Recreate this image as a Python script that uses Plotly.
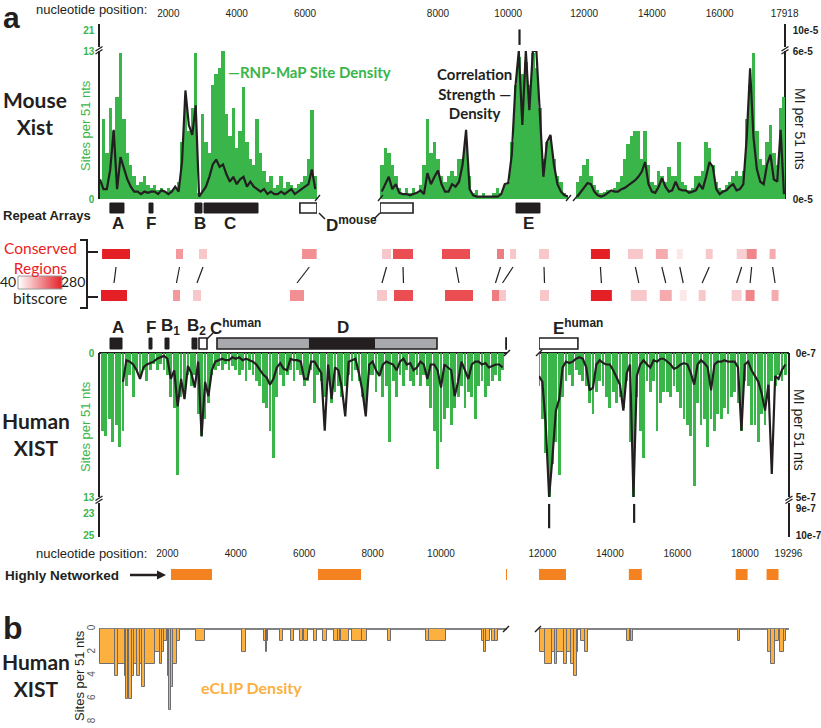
import plotly.graph_objects as go

W, H = 821, 728
ARIAL = "Liberation Sans, Arial, sans-serif"
CAL = "Lato, Carlito, Calibri, sans-serif"
GREEN = "#39b54a"
BLACK = "#231f20"
ORANGE = "#f58220"
ECLIP = "#fbb040"
RED = "#ed1c24"

# ------------------------------------------------------------------ data
# Mouse Xist: RNP-MaP sites per 51 nt and MI (x1e-5) per 51 nt, 100-nt bins
mouse_bins = list(range(0, 18000, 100))
mouse_sites = [
    1.5, 7, 4, 8, 6, 9, 12.8, 7, 4, 3,
    2, 1.2, 1.5, 2, 1.2, 1, 1.2, 0.8, 1, 0.6,
    1, 0.8, 1, 1.5, 5, 8.5, 6, 8, 12.8, 0.5,
    7.5, 5, 4, 10, 11, 11.5, 13, 7.5, 5.5, 8,
    4.5, 6, 9.8, 5, 3.5, 3, 7, 4, 2.5, 1.5,
    2, 1, 1.2, 2, 1, 1.5, 1.2, 1, 1.3, 1.5,
    2, 3.5, 7.8, 2,
    3, 4.5, 4, 3, 2, 1, 0.5, 1, 0.5, 1,
    0.5, 1.2, 3, 7, 4, 5, 3.5, 2, 1.5, 2,
    2.5, 2, 3.5, 3.5, 5, 2, 0.5, 0.8, 0.3, 0.5,
    0.3, 0.2, 0.5, 1, 0.5, 1.2, 1.5, 5, 10, 12.5,
    11, 12, 10, 12.8, 11.5, 8, 3.5, 5, 5.5, 3.5,
    2, 1.5, 0.5, 0.2,
    1.5, 2, 3, 3.5, 2, 1.2, 0.8, 0.5, 0.6, 0.8,
    0.6, 1, 1.5, 2, 3.5, 4.8, 5.5, 6, 6, 3.5,
    6, 3, 1.5, 1.2, 2.5, 2, 1.5, 2.8, 2, 2,
    5, 1.5, 1.2, 0.8, 1, 2, 2, 2.5, 5, 4.5,
    3, 1.5, 1, 0.8, 1.2, 1.5, 2, 2.5, 2, 2.5,
    7, 10, 12.8, 6, 3.5, 3, 5, 6.5, 4, 3,
    8, 9]
mouse_mi = [
    0.8, 0.4, 0.4, 1.2, 2.8, 0.4, 1.7, 1.2, 0.8, 0.5,
    0.3, 0.3, 0.2, 0.3, 0.25, 0.3, 0.3, 0.2, 0.35, 0.3,
    0.2, 0.3, 0.5, 0.3, 1.5, 4.4, 3.0, 2.6, 3.8, 0.1,
    0.3, 0.5, 0.9, 1.4, 1.6, 1.3, 1.4, 1.0, 0.7, 0.9,
    0.6, 0.8, 0.9, 0.5, 0.7, 0.5, 0.4, 0.3, 0.4, 0.2,
    0.3, 0.2, 0.2, 0.3, 0.2, 0.3, 0.4, 0.2, 0.3, 0.4,
    0.5, 0.6, 1.2, 0.4,
    0.3, 0.6, 0.9, 0.4, 0.6, 0.25, 0.2, 0.2, 0.15, 0.2,
    0.25, 0.35, 0.2, 1.05, 0.6, 0.9, 1.15, 0.6, 0.3, 0.3,
    0.6, 0.5, 0.7, 1.4, 2.8, 0.4, 0.15, 0.1, 0.1, 0.12,
    0.1, 0.1, 0.1, 0.1, 0.2, 0.6, 0.65, 1.8, 4.5, 6,
    3.0, 6, 3.6, 6, 6, 3.2, 0.9, 2.3, 2.6, 1.4,
    0.6, 0.3, 0.15, 0.1,
    0.1, 0.3, 0.45, 0.65, 0.6, 0.3, 0.15, 0.1, 0.15, 0.25,
    0.35, 0.3, 0.3, 0.4, 0.45, 0.55, 0.65, 0.75, 0.9, 1.1,
    1.5, 0.6, 0.3, 0.25, 0.5, 0.85, 0.5, 0.3, 0.35, 0.7,
    0.4, 0.35, 0.35, 0.25, 0.3, 0.35, 0.6, 0.4, 0.9, 1.5,
    1.3, 0.4, 0.2, 0.3, 0.35, 0.5, 0.6, 0.35, 0.4, 0.6,
    2.5, 5.3, 2.5, 1.2, 0.7, 0.6, 1.4, 1.8, 0.8, 0.7,
    2.8, 0.2]
mouse_mi_overflow_nt = [10320]
mouse_mi_overflow_top = [10.2]

# Human XIST
human_bins = list(range(0, 19300, 100))
human_sites = [
    2, 7, 7.5, 6, 8, 6.5, 8.5, 7, 3, 2,
    4, 1.5, 2, 1.5, 2.5, 1.5, 1, 1.5, 1, 1.5,
    2, 4, 5, 11, 4, 3.5, 2, 3, 2, 5.5,
    7.5, 6, 4.5, 2, 1.5, 1.2, 1.5, 1, 1.5, 1.2,
    1.5, 2, 1.5, 2.5, 1.5, 2, 2.5, 3, 4.5, 5,
    7, 9.5, 4, 2, 3, 2, 1.5, 2.5, 1.5, 2,
    3, 2.5, 1.5, 4.5, 2, 2.5, 4, 2, 4.5, 3.5,
    3, 4, 3, 2, 2.5, 1.5, 2.5, 4, 5, 2,
    2, 3.5, 2, 4, 3, 8, 2.5, 4, 2, 3,
    1.5, 2.5, 3, 2, 3, 2, 3, 5, 7, 10.5,
    8, 6, 5, 6.5, 5, 4, 3, 5, 3.5, 4,
    6, 3, 2.5, 4, 3, 2.5, 2, 2.5, 1.5,
    3, 6, 9, 13, 10, 8, 11, 4, 2.5, 2,
    3, 1.5, 2, 2.5, 3, 4.5, 5.5, 3.5, 2.5, 3,
    4, 5, 3.5, 4.5, 4, 5, 2.5, 8, 13, 4,
    7, 9.5, 2.5, 3.5, 2.5, 7, 4.5, 3.5, 3.5, 4,
    3, 3.5, 5, 6, 6.5, 7.5, 12, 4.5, 6.5, 6,
    8.5, 6, 7, 5.5, 6, 5, 5.5, 4, 3.5, 4.5,
    7, 2.5, 3, 6.5, 6.5, 8, 5.5, 6.5, 4, 2.5,
    3, 2, 2.5, 2]
human_mi = [
    None, None, None, None, None, None, None, 1.0, 0.25, 0.3,
    0.4, 0.6, 0.9, 0.5, 0.4, 0.35, 0.3, 0.2, 0.15, 0.1,
    0.2, 0.9, 0.6, 1.85, 0.9, 1.6, 0.45, 0.7, 1.2, 0.3,
    2.9, 1.0, 1.5, 0.6, 0.3, 0.25, 0.2, 0.25, 0.25, 0.15,
    0.2, 0.15, 0.25, 0.2, 0.25, 0.3, 0.4, 0.6, 0.75, 0.85,
    1.1, 0.9, 0.5, 0.35, 0.55, 0.6, 0.2, 0.25, 0.25, 0.3,
    0.9, 0.9, 0.3, 0.3, 0.5, 0.7, 2.7, 0.4, 1.6, 0.5,
    0.6, 1.2, 2.2, 0.3, 0.25, 0.2, 0.7, 1.3, 2.2, 0.4,
    0.3, 0.6, 0.8, 0.4, 0.3, 0.35, 0.4, 0.6, 0.3, 0.2,
    0.4, 0.35, 0.6, 0.5, 0.3, 0.4, 0.9, 0.4, 0.4, 0.6,
    1.2, 0.4, 0.5, 0.6, 1.5, 1.0, 0.3, 0.6, 0.9, 0.4,
    0.3, 0.3, 0.4, 0.35, 0.5, 0.45, 0.4, 0.4, 0.5,
    0.8, 1.0, 2.5, 5, 3.6, 2.0, 1.6, 0.5, 0.3, 0.35,
    0.3, 0.2, 0.15, 0.2, 0.5, 1.3, 1.2, 0.4, 0.25, 0.35,
    0.4, 0.4, 0.6, 0.85, 1.1, 2.0, 0.7, 0.4, 5, 0.8,
    0.4, 0.25, 0.4, 0.5, 0.25, 0.3, 0.2, 0.2, 0.3, 0.4,
    0.55, 0.5, 0.4, 0.35, 0.4, 0.7, 1.1, 0.4, 0.25, 0.35,
    0.5, 1.3, 0.4, 0.3, 0.3, 0.25, 0.3, 0.3, 0.3, 0.5,
    2.7, 0.4, 0.3, 0.6, 0.8, 1.0, 1.4, 2.0, 1.1, 4.2,
    0.8, 0.9, 0.6, 0.4]
human_mi_overflow_nt = [12200, 14720]
human_mi_overflow_bottom = [9.75, 9.55]

mouse_ticks = [2000, 4000, 6000, 8000, 10000, 12000, 14000, 16000, 17918]
human_ticks = [2000, 4000, 6000, 8000, 10000, 12000, 14000, 16000, 18000, 19296]

# repeat arrays (nt)
mouse_repeat_names = ["A", "F", "B", "C", "D", "E"]
mouse_repeat_start = [290, 1434, 2780, 3044, 5850, 10220]
mouse_repeat_end = [702, 1551, 2985, 4624, 7290, 10903]
human_repeat_names = ["A", "F", "B1", "B2", "C", "D", "E"]
human_repeat_start = [322, 1462, 1930, 2719, 2924, 3450, 11900]
human_repeat_end = [673, 1550, 2047, 2865, 3158, 9883, 13054]
human_D_core = [6140, 8070]

# conserved regions (paired mouse / human, bitscore)
cons_mouse_start = [60, 2224, 2897, 5912, 6407, 6720, 8114, 9680, 10050, 10875, 12201, 13292, 14117, 14735, 15590, 16503, 16798, 17476]
cons_mouse_end = [878, 2429, 3131, 6340, 6663, 7289, 8911, 9879, 10222, 11160, 12761, 13734, 14470, 14912, 15796, 16798, 17093, 17653]
cons_human_start = [58, 2164, 2749, 5585, 8129, 8626, 10117, 11491, 11696, 11930, 13438, 14622, 15480, 16071, 16633, 17609, 18024, 18793]
cons_human_end = [819, 2368, 2982, 5994, 8421, 9181, 10936, 11696, 11900, 12196, 14060, 15095, 15834, 16278, 16840, 17905, 18290, 19000]
cons_bitscore = [280, 150, 100, 160, 100, 230, 230, 180, 100, 100, 280, 100, 130, 65, 100, 90, 170, 130]
bitscore_range = [40, 280]

# highly networked regions (human nt)
hn_start = [2105, 6404, 11900, 14563, 17729, 18645]
hn_end = [3304, 7661, 12700, 14947, 18083, 19000]

# eCLIP density (human nt segments, sites per 51 nts)
eclip_start = [30, 470, 560, 760, 790, 860, 890, 960, 1020, 1100, 1200, 1250, 1345, 1640, 1785, 1830, 1900,
               2010, 2060, 2110, 2170, 2270, 2840, 4190, 4820, 4870, 4910, 5300, 5610, 5870, 5980, 6290,
               6560, 6880, 7000, 7070, 7400, 7700, 8450, 9560, 9650, 11200, 11260, 11330, 11490, 11580,
               11930, 12080, 12290, 12360, 12440, 12640, 12740, 12860, 12940, 13040, 13150, 13260,
               14500, 14630, 17790, 18690, 18790, 18900, 19050, 19150]
eclip_end = [470, 560, 760, 790, 860, 890, 960, 1020, 1100, 1200, 1250, 1345, 1640, 1785, 1830, 1900, 1980,
             2060, 2110, 2170, 2270, 2370, 3100, 4300, 4870, 4910, 4940, 5380, 5700, 5960, 6110, 6380,
             6670, 6990, 7050, 7310, 7700, 7840, 8540, 9650, 10150, 11260, 11330, 11430, 11570, 11670,
             12080, 12290, 12360, 12440, 12640, 12740, 12860, 12940, 13040, 13070, 13260, 13360,
             14600, 14680, 17870, 18790, 18900, 19000, 19150, 19230]
eclip_sites = [3, 4, 3, 4, 6, 4, 6, 4, 3, 4, 3, 5, 3, 2, 3, 2, 1,
               4, 7, 5, 3, 1, 1, 2, 1, 2, 1, 1, 1, 1, 1, 1,
               1, 1, 1, 1, 1, 1, 1, 1, 1, 1, 2, 1, 1, 1,
               2, 3, 2, 3, 2, 3, 2, 3, 4, 2, 1, 2,
               1, 1, 1, 2, 3, 1, 2, 1]

assert len(mouse_sites) == len(mouse_bins) == len(mouse_mi)
assert len(human_sites) == len(human_bins) == len(human_mi)
assert len(eclip_start) == len(eclip_end) == len(eclip_sites)

# ------------------------------------------------------------------ layout helpers
def fx(px):
    return px / W

def fy(py):
    return 1 - py / H

# (axis id, nt lo, nt hi, pixel left, pixel right)
MSEG = [("x", 0, 6350, 100, 317), ("x2", 6350, 11700, 380, 568), ("x3", 11730, 17930, 575, 785)]
HSEG = [("x4", 0, 11930, 99, 507), ("x5", 11900, 19310, 539, 789)]
MSPLIT = [(-1, 6350), (6350, 11750), (11750, 10 ** 9)]
HSPLIT = [(-1, 11850), (11850, 10 ** 9)]
MOUSE_BAR_W = 100
HUMAN_BAR_W = 82


def nt_px(nt, segs):
    for ax, lo, hi, d0, d1 in segs:
        if lo <= nt <= hi:
            return d0 + (nt - lo) / (hi - lo) * (d1 - d0)
    return None


def bitcolor(b):
    t = (b - bitscore_range[0]) / (bitscore_range[1] - bitscore_range[0])
    t = max(0, min(1, t))
    r = round(255 + (228 - 255) * t)
    g = round(255 + (31 - 255) * t)
    bl = round(255 + (38 - 255) * t)
    return f"rgb({r},{g},{bl})"


shapes = []
annotations = []


def add_box(segs, start, end, ytop, ybot, fill, line):
    for ax, lo, hi, d0, d1 in segs:
        a, b = max(start, lo), min(end, hi)
        if a < b:
            shapes.append(dict(type="rect", xref=ax, yref="paper", x0=a, x1=b,
                               y0=fy(ybot), y1=fy(ytop), fillcolor=fill, line=line, layer="above"))


def line_px(x0, y0, x1, y1, w=1.5, color=BLACK):
    shapes.append(dict(type="line", xref="paper", yref="paper", x0=fx(x0), y0=fy(y0),
                       x1=fx(x1), y1=fy(y1), line=dict(color=color, width=w)))


def ann(text, x, y, size, color=BLACK, family=ARIAL, xanchor="center", yanchor="middle", angle=0, align="center"):
    annotations.append(dict(text=text, x=fx(x), y=fy(y), xref="paper", yref="paper", showarrow=False,
                            font=dict(size=size, color=color, family=family), xanchor=xanchor,
                            yanchor=yanchor, textangle=angle, align=align, borderpad=0))


# ------------------------------------------------------------------ traces
fig = go.Figure()

# mouse green bars
for (ax, lo, hi, d0, d1), (a, b) in zip(MSEG, MSPLIT):
    idx = [i for i, n in enumerate(mouse_bins) if a <= n < b]
    fig.add_trace(go.Bar(x=[mouse_bins[i] for i in idx], y=[mouse_sites[i] for i in idx], width=MOUSE_BAR_W,
                         marker=dict(color=GREEN, line=dict(width=0)), xaxis=ax, yaxis="y", hoverinfo="skip"))
# mouse MI line
for (ax, lo, hi, d0, d1), (a, b) in zip(MSEG, MSPLIT):
    idx = [i for i, n in enumerate(mouse_bins) if a <= n < b]
    fig.add_trace(go.Scatter(x=[mouse_bins[i] for i in idx], y=[mouse_mi[i] for i in idx], mode="lines",
                             line=dict(color=BLACK, width=2.2), xaxis=ax, yaxis="y2", hoverinfo="skip"))
# overflow (above axis break)
fig.add_trace(go.Scatter(x=[None], y=[None], xaxis="x", yaxis="y3", mode="lines", hoverinfo="skip"))
for n, top in zip(mouse_mi_overflow_nt, mouse_mi_overflow_top):
    fig.add_trace(go.Scatter(x=[n, n], y=[6.5, top], mode="lines", line=dict(color=BLACK, width=2.2),
                             xaxis="x2", yaxis="y4", hoverinfo="skip"))

# human green bars
for (ax, lo, hi, d0, d1), (a, b) in zip(HSEG, HSPLIT):
    idx = [i for i, n in enumerate(human_bins) if a <= n < b]
    fig.add_trace(go.Bar(x=[human_bins[i] for i in idx], y=[human_sites[i] for i in idx], width=HUMAN_BAR_W,
                         marker=dict(color=GREEN, line=dict(width=0)), xaxis=ax, yaxis="y5", hoverinfo="skip"))
for (ax, lo, hi, d0, d1), (a, b) in zip(HSEG, HSPLIT):
    idx = [i for i, n in enumerate(human_bins) if a <= n < b]
    fig.add_trace(go.Scatter(x=[human_bins[i] for i in idx], y=[human_mi[i] for i in idx], mode="lines",
                             line=dict(color=BLACK, width=2.2), xaxis=ax, yaxis="y6", hoverinfo="skip"))
fig.add_trace(go.Scatter(x=[None], y=[None], xaxis="x4", yaxis="y7", mode="lines", hoverinfo="skip"))
for n, bot in zip(human_mi_overflow_nt, human_mi_overflow_bottom):
    fig.add_trace(go.Scatter(x=[n, n], y=[8.85, bot], mode="lines", line=dict(color=BLACK, width=2.2),
                             xaxis="x5", yaxis="y8", hoverinfo="skip"))

# eCLIP density (panel b)
for ax, lo, hi, d0, d1 in HSEG:
    idx = [i for i in range(len(eclip_start)) if lo <= eclip_start[i] < hi and eclip_end[i] <= hi + 1]
    fig.add_trace(go.Bar(x=[(eclip_start[i] + eclip_end[i]) / 2 for i in idx],
                         y=[eclip_sites[i] for i in idx],
                         width=[eclip_end[i] - eclip_start[i] for i in idx],
                         marker=dict(color=ECLIP, line=dict(color="#6d6e71", width=1)),
                         xaxis=ax, yaxis="y9", hoverinfo="skip"))

# bitscore colour bar
fig.add_trace(go.Heatmap(z=[bitscore_range], x=[0, 1], y=[0], zmin=bitscore_range[0], zmax=bitscore_range[1],
                         zsmooth="best", colorscale=[[0, bitcolor(bitscore_range[0])], [1, bitcolor(bitscore_range[1])]],
                         showscale=False, xaxis="x6", yaxis="y10", hoverinfo="skip"))

# ------------------------------------------------------------------ shapes
SOLID = dict(color=BLACK, width=1)
HOLLOW = dict(color=BLACK, width=1.6)

# mouse repeat arrays
for name, s, e in zip(mouse_repeat_names, mouse_repeat_start, mouse_repeat_end):
    if name == "D":
        add_box(MSEG, s, e, 203, 213, "white", HOLLOW)
    else:
        add_box(MSEG, s, e, 203, 213, BLACK, SOLID)
# human repeat arrays
for name, s, e in zip(human_repeat_names, human_repeat_start, human_repeat_end):
    if name in ("C", "E"):
        add_box(HSEG, s, e, 338, 349, "white", HOLLOW)
    elif name == "D":
        add_box(HSEG, s, e, 338, 349, "#a7a9ac", HOLLOW)
        add_box(HSEG, human_D_core[0], human_D_core[1], 338, 349, BLACK, dict(width=0))
    else:
        add_box(HSEG, s, e, 338, 349, BLACK, SOLID)

# conserved regions
for ms, me, hs, he, bs in zip(cons_mouse_start, cons_mouse_end, cons_human_start, cons_human_end, cons_bitscore):
    c = bitcolor(bs)
    add_box(MSEG, ms, me, 249, 259, c, dict(width=0))
    add_box(HSEG, hs, he, 290, 301, c, dict(width=0))
    xm = nt_px((ms + me) / 2, MSEG)
    xh = nt_px((hs + he) / 2, HSEG)
    line_px(xm, 267, xh, 283, w=1.2)

# highly networked
for s, e in zip(hn_start, hn_end):
    add_box(HSEG, s, e, 569, 580, ORANGE, dict(width=0))

# arrow next to "Highly Networked"
line_px(130, 575, 158, 575, w=2.5)
shapes.append(dict(type="path", xref="paper", yref="paper",
                   path="M %f,%f L %f,%f L %f,%f Z" % (fx(157), fy(570.5), fx(166), fy(575), fx(157), fy(579.5)),
                   fillcolor=BLACK, line=dict(width=0)))

# bracket for conserved regions
line_px(87, 240, 87, 308, w=2)
line_px(80, 240, 88, 240, w=2)
line_px(80, 308, 88, 308, w=2)
line_px(87, 252, 98, 252, w=2)
line_px(87, 297, 98, 297, w=2)
# colour bar border
shapes.append(dict(type="rect", xref="paper", yref="paper", x0=fx(18), x1=fx(62), y0=fy(289), y1=fy(276),
                   line=dict(color="#9a9a9a", width=1)))

# connectors for D(mouse) and C(human)
line_px(319, 213, 325, 219, w=1.5)
line_px(374, 219, 380, 213, w=1.5)
line_px(207, 339, 213, 333, w=1.5)

# axis break marks
for xa in (99, 785):
    line_px(xa - 3.5, 51, xa + 3.5, 46.5, w=1.3)
    line_px(xa - 3.5, 54, xa + 3.5, 49.5, w=1.3)
for xa in (99, 789):
    line_px(xa - 3.5, 500.5, xa + 3.5, 496, w=1.3)
    line_px(xa - 3.5, 503.5, xa + 3.5, 499, w=1.3)
for xb in (317, 380, 568, 575):
    line_px(xb - 2, 201, xb + 3, 195, w=1.3)
for xb, yb in ((507, 353), (539, 353), (506, 629), (538, 629)):
    line_px(xb - 3, yb + 3, xb + 3, yb - 3, w=1.5)

# ------------------------------------------------------------------ text
ann("<b>a</b>", 2, 0, 30, xanchor="left", yanchor="top")
ann("nucleotide position:", 148, 10, 13, xanchor="right")
ann("<b>Mouse<br>Xist</b>", 35, 113, 21, family=CAL)
ann("<b>\u2014RNP-MaP Site Density</b>", 227, 72, 15, color=GREEN, family=CAL, xanchor="left")
ann("<b>Correlation<br>Strength \u2014<br>Density</b>", 474, 93, 15, family=CAL)
ann("Sites per 51 nts", 85, 126, 13, color=GREEN, angle=-90)
ann("MI per 51 nts", 800, 129, 14, angle=90)
ann("<b>Repeat Arrays</b>", 2, 215, 13, xanchor="left")
for t, x in (("A", 118), ("F", 151), ("B", 199.5), ("C", 230), ("E", 528.5)):
    ann("<b>%s</b>" % t, x, 223.5, 17)
ann("<b>D<sup>mouse</sup></b>", 325, 223.5, 17, xanchor="left")

ann("Conserved<br>Regions", 40, 258, 15.5, color=RED, family=CAL)
ann("40", 8, 282, 14, family=CAL)
ann("280", 73, 282, 14, family=CAL)
ann("bitscore", 40, 298, 15.5, family=CAL)

ann("<b>A</b>", 117.5, 327.5, 17)
ann("<b>F</b>", 151, 327.5, 17)
ann("<b>B<sub>1</sub></b>", 160, 327.5, 17, xanchor="left")
ann("<b>B<sub>2</sub></b>", 186, 327.5, 17, xanchor="left")
ann("<b>C<sup>human</sup></b>", 209, 327.5, 17, xanchor="left")
ann("<b>D</b>", 343, 327.5, 17)
ann("<b>E<sup>human</sup></b>", 552, 327.5, 17, xanchor="left")

ann("<b>Human<br>XIST</b>", 36, 434, 21, family=CAL)
ann("Sites per 51 nts", 85, 427, 13, color=GREEN, angle=-90)
ann("MI per 51 nts", 799, 430, 14, angle=90)
ann("nucleotide position:", 148, 553, 13, xanchor="right")
ann("<b>Highly Networked</b>", 4, 575, 13.5, xanchor="left")

ann("<b>b</b>", 2, 628, 32, xanchor="left")
ann("<b>Human<br>XIST</b>", 36, 675, 21, family=CAL)
ann("Sites per 51 nts", 79, 676, 13, angle=-90)
ann("<b>eCLIP Density</b>", 200, 687, 16, color=ECLIP, family=CAL, xanchor="left")

# ------------------------------------------------------------------ axes
def xaxis_cfg(seg, side, pos_px, ticks):
    ax, lo, hi, d0, d1 = seg
    tv = [t for t in ticks if lo <= t <= hi]
    return dict(domain=[fx(d0), fx(d1)], range=[lo, hi], anchor="free", position=fy(pos_px), side=side,
                showgrid=False, zeroline=False, showline=False, ticks="", tickmode="array", tickvals=tv,
                ticktext=[str(t) for t in tv], tickfont=dict(family=ARIAL, size=10, color=BLACK),
                automargin=False, fixedrange=True)


def yaxis_cfg(top_px, bot_px, rng, side, pos_px, tv, tt, color, showline=True, **kw):
    d = dict(domain=[fy(bot_px), fy(top_px)], range=rng, anchor="free", position=fx(pos_px), side=side,
             showgrid=False, zeroline=False, showline=showline, linecolor=BLACK, linewidth=1.5, ticks="",
             tickmode="array", tickvals=tv, ticktext=tt,
             tickfont=dict(family=ARIAL, size=10, color=color, weight="bold"), ticklabelstandoff=2,
             automargin=False, fixedrange=True)
    d.update(kw)
    return d


axes = {}
for i, seg in enumerate(MSEG):
    key = "xaxis" if i == 0 else "xaxis%d" % (i + 1)
    axes[key] = xaxis_cfg(seg, "top", 19, mouse_ticks)
axes["xaxis4"] = xaxis_cfg(HSEG[0], "bottom", 546, human_ticks)
axes["xaxis5"] = xaxis_cfg(HSEG[1], "bottom", 546, human_ticks)
axes["xaxis6"] = dict(domain=[fx(18), fx(62)], range=[0, 1], anchor="y10", showgrid=False, zeroline=False,
                      showline=False, showticklabels=False, ticks="", automargin=False, fixedrange=True)

axes["yaxis"] = yaxis_cfg(51, 199, [0, 13], "left", 99, [0, 13], ["0", "13"], GREEN)
axes["yaxis2"] = yaxis_cfg(51, 199, [0, 6], "right", 785, [0, 6], ["0e-5", "6e-5"], BLACK,
                           ticklabelstandoff=5)
axes["yaxis3"] = yaxis_cfg(24, 47, [13, 24], "left", 99, [21], ["21"], GREEN)
axes["yaxis4"] = yaxis_cfg(24, 47, [6, 11.5], "right", 785, [10], ["10e-5"], BLACK, ticklabelstandoff=5)

axes["yaxis5"] = yaxis_cfg(353, 497, [13, 0], "left", 99, [0, 13], ["0", "13"], GREEN,
                           zeroline=True, zerolinecolor=BLACK, zerolinewidth=2)
axes["yaxis6"] = yaxis_cfg(353, 497, [5, 0], "right", 789, [0, 5], ["0e-7", "5e-7"], BLACK,
                           ticklabelstandoff=4)
axes["yaxis7"] = yaxis_cfg(503, 537, [25.18, 22.09], "left", 99, [23, 25], ["23", "25"], GREEN)
axes["yaxis8"] = yaxis_cfg(503, 537, [10.074, 8.815], "right", 789, [9, 10], ["9e-7", "10e-7"], BLACK,
                           ticklabelstandoff=4)
axes["yaxis9"] = yaxis_cfg(629, 722, [8, 0], "left", 99, [0, 2, 4, 6, 8], ["0", "2", "4", "6", "8"], "#58595b",
                           showline=False, zeroline=True, zerolinecolor="#808285", zerolinewidth=1.5,
                           tickangle=-90)
axes["yaxis9"]["tickfont"] = dict(family=ARIAL, size=10, color="#58595b")
axes["yaxis10"] = dict(domain=[fy(289), fy(276)], range=[-0.5, 0.5], anchor="x6", showgrid=False,
                       zeroline=False, showline=False, showticklabels=False, ticks="", automargin=False,
                       fixedrange=True)

fig.update_layout(template="none", width=W, height=H, margin=dict(l=0, r=0, t=0, b=0, pad=0), autosize=False,
                  paper_bgcolor="white", plot_bgcolor="rgba(0,0,0,0)", showlegend=False,
                  barmode="overlay", bargap=0, shapes=shapes, annotations=annotations, **axes)

# the page's default body margin would shift the 821x728 figure; remove it
fig.write_html("out.html", config={"displayModeBar": False},
               post_script="document.body.style.margin='0px';document.body.style.overflow='hidden';")
